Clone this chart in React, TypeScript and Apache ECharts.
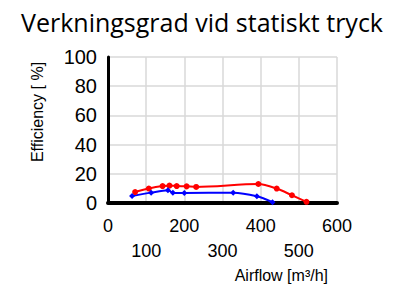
import React, { useEffect, useRef } from "react";
import * as echarts from "echarts";

const titleText = "Verkningsgrad vid statiskt tryck";
const xAxisName = "Airflow [m³/h]";
const yAxisName = "Efficiency [ %]";

const redAirflow = [71, 107, 143, 161, 180, 206, 231, 394, 442, 482, 520];
const redEfficiency = [7.5, 9.9, 11.6, 11.9, 11.6, 11.4, 11.0, 13.0, 9.9, 5.3, 0.8];

const blueAirflow = [63, 113, 157, 170, 200, 328, 390, 431];
const blueEfficiency = [4.8, 7.1, 8.7, 7.1, 6.8, 7.1, 4.6, 0.5];

export default function App() {
  const ref = useRef<HTMLDivElement>(null);
  useEffect(() => {
    if (!ref.current) return;
    const chart = echarts.init(ref.current, null, { renderer: "svg" });
    const redData = redAirflow.map((x, i) => [x, redEfficiency[i]]);
    const blueData = blueAirflow.map((x, i) => [x, blueEfficiency[i]]);
    chart.setOption({
      animation: false,
      backgroundColor: "#ffffff",
      title: {
        text: titleText,
        left: "center",
        top: 4,
        textStyle: {
          fontFamily: "Open Sans",
          fontWeight: "normal",
          fontSize: 25,
          color: "#000",
        },
      },
      grid: { left: 108, right: 67, top: 57, bottom: 86, containLabel: false },
      xAxis: {
        type: "value",
        min: 0,
        max: 600,
        interval: 100,
        axisLine: { show: true, lineStyle: { color: "#000", width: 4 } },
        axisTick: { show: false },
        splitLine: { show: true, lineStyle: { color: "#d9d9d9", width: 1.5 } },
        axisLabel: {
          fontFamily: "Liberation Sans",
          fontSize: 18,
          color: "#000",
          margin: 10,
          lineHeight: 25,
          formatter: (v: number) => (Math.round(v / 100) % 2 === 1 ? "\n" + v : String(v)),
        },
      },
      yAxis: {
        type: "value",
        min: 0,
        max: 100,
        interval: 20,
        axisLine: { show: true, lineStyle: { color: "#000", width: 3 } },
        axisTick: { show: false },
        splitLine: { show: true, lineStyle: { color: "#d9d9d9", width: 1.5 } },
        axisLabel: {
          fontFamily: "Liberation Sans",
          fontSize: 20,
          color: "#000",
          margin: 11,
        },
      },
      graphic: [
        {
          type: "text",
          right: 76,
          top: 267,
          style: {
            text: xAxisName,
            font: "16px 'Liberation Sans'",
            fill: "#000",
          },
        },
        {
          type: "text",
          x: 37,
          y: 112,
          rotation: Math.PI / 2,
          style: {
            text: yAxisName,
            font: "16px 'Liberation Sans'",
            fill: "#000",
            align: "center",
            verticalAlign: "middle",
          },
        },
      ],
      series: [
        {
          type: "line",
          data: redData,
          smooth: 0.3,
          symbol: "circle",
          symbolSize: 6,
          itemStyle: { color: "#ff0000" },
          lineStyle: { color: "#ff0000", width: 2 },
          z: 3,
        },
        {
          type: "line",
          data: blueData,
          smooth: 0.3,
          symbol: "diamond",
          symbolSize: 6,
          itemStyle: { color: "#0000ff" },
          lineStyle: { color: "#0000ff", width: 2 },
          z: 3,
        },
      ],
    });
    return () => chart.dispose();
  }, []);
  return <div ref={ref} style={{ width: 404, height: 289, position: "absolute", left: 0, top: 0 }} />;
}
